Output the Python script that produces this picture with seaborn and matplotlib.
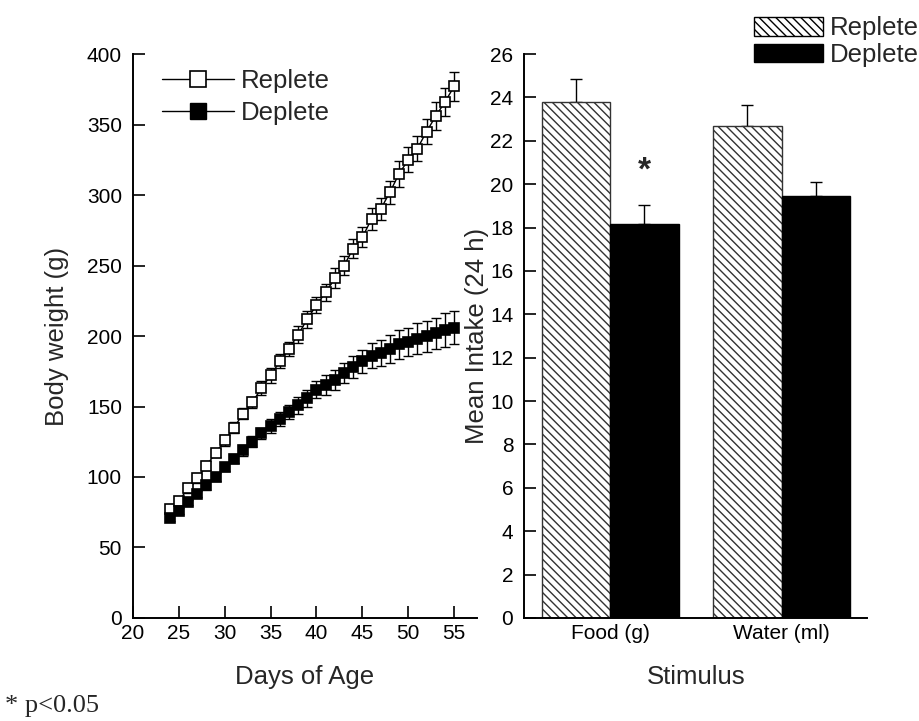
import matplotlib
matplotlib.use("Agg")
import matplotlib.pyplot as plt
import pandas as pd
import seaborn as sns
from matplotlib.lines import Line2D
from matplotlib.patches import Patch

# body weight by day of age (mean, sem)
days = list(range(24, 56))
replete_wt = [77, 83, 92, 99, 108, 117, 126, 135, 145, 153, 163, 172, 182, 191, 201, 212,
              222, 231, 241, 250, 262, 270, 283, 290, 302, 315, 325, 333, 345, 356, 366, 377]
replete_sem = [3, 3, 3, 3, 3, 3, 4, 4, 4, 4, 5, 5, 5, 5, 6, 6,
               6, 6, 7, 7, 7, 7, 8, 8, 8, 9, 9, 9, 9, 10, 10, 10]
deplete_wt = [71, 76, 82, 88, 94, 100, 107, 113, 119, 125, 131, 136, 141, 146, 151, 156,
              162, 165, 169, 174, 178, 182, 186, 188, 191, 194, 196, 198, 200, 202, 204, 206]
deplete_sem = [2, 2, 2, 2, 3, 3, 3, 3, 4, 4, 4, 5, 5, 5, 6, 6,
               6, 7, 7, 7, 8, 8, 9, 9, 10, 10, 10, 11, 11, 11, 12, 12]

# 24 h intake
stimuli = ["Food (g)", "Water (ml)"]
groups = ["Replete", "Deplete"]
intake_replete = [23.8, 22.7]
intake_deplete = [18.15, 19.45]
sem_replete = [1.05, 0.95]
sem_deplete = [0.87, 0.66]

sns.set_style("ticks")
plt.rcParams["font.family"] = ["Liberation Sans", "DejaVu Sans"]
plt.rcParams["hatch.linewidth"] = 1.0

HATCH = "\\\\\\\\"

fig = plt.figure(figsize=(9.2, 7.21), dpi=100)
ax1 = fig.add_axes([0.1446, 0.1429, 0.3739, 0.7821])
ax2 = fig.add_axes([0.570, 0.1429, 0.3727, 0.7821])

# ---- left: body weight
ax1.errorbar(days, replete_wt, yerr=replete_sem, fmt="none", ecolor="black",
             elinewidth=1.0, capsize=3.6, capthick=1.0, zorder=2)
ax1.errorbar(days, deplete_wt, yerr=deplete_sem, fmt="none", ecolor="black",
             elinewidth=1.0, capsize=3.6, capthick=1.0, zorder=2)
sns.lineplot(x=days, y=replete_wt, ax=ax1, color="black", lw=1.0, marker="s",
             markersize=7.5, markerfacecolor="white", markeredgecolor="black",
             markeredgewidth=1.2, zorder=3)
sns.lineplot(x=days, y=deplete_wt, ax=ax1, color="black", lw=1.0, marker="s",
             markersize=7.5, markerfacecolor="black", markeredgecolor="black",
             markeredgewidth=1.2, zorder=4)

ax1.set_xlim(20, 57.5)
ax1.set_ylim(0, 400)
ax1.set_xticks(range(20, 56, 5))
ax1.set_yticks(range(0, 401, 50))
ax1.set_xlabel("Days of Age", fontsize=18.5, labelpad=16)
ax1.set_ylabel("Body weight (g)", fontsize=18.5, labelpad=13)

line_handles = [
    Line2D([], [], color="black", lw=1.0, marker="s", markersize=11,
           markerfacecolor="white", markeredgecolor="black", markeredgewidth=1.2),
    Line2D([], [], color="black", lw=1.0, marker="s", markersize=11,
           markerfacecolor="black", markeredgecolor="black"),
]
ax1.legend(line_handles, groups, loc="upper left", bbox_to_anchor=(0.04, 1.0),
           frameon=False, fontsize=18.5, handlelength=2.8, handletextpad=0.25,
           labelspacing=0.3, borderaxespad=0.2)

# ---- right: intake bars
df = pd.DataFrame({
    "stimulus": stimuli * 2,
    "group": [groups[0]] * 2 + [groups[1]] * 2,
    "intake": intake_replete + intake_deplete,
    "sem": sem_replete + sem_deplete,
})
sns.barplot(data=df, x="stimulus", y="intake", hue="group", hue_order=groups,
            palette={"Replete": "white", "Deplete": "black"}, errorbar=None,
            edgecolor="black", linewidth=1.0, legend=False, ax=ax2, zorder=2)

for cont, grp in zip(ax2.containers, groups):
    sub = df[df["group"] == grp]
    xs = [b.get_x() + b.get_width() / 2 for b in cont]
    ax2.errorbar(xs, sub["intake"], yerr=[[0] * len(xs), sub["sem"]], fmt="none",
                 ecolor="black", elinewidth=1.0, capsize=4.5, capthick=1.0, zorder=1)
    if grp == "Replete":
        for b in cont:
            b.set_hatch(HATCH)
            b.set_edgecolor("#333333")

food_dep = ax2.containers[1][0]
ax2.text(food_dep.get_x() + food_dep.get_width() / 2, 20.6, "*", ha="center",
         va="center", fontsize=24, fontweight="bold")

ax2.set_xlim(-0.5, 1.5)
ax2.set_ylim(0, 26)
ax2.set_yticks(range(0, 27, 2))
ax2.set_xlabel("Stimulus", fontsize=18.5, labelpad=16)
ax2.set_ylabel("Mean Intake (24 h)", fontsize=18.5, labelpad=1)

bar_handles = [Patch(facecolor="white", edgecolor="black", hatch=HATCH),
               Patch(facecolor="black", edgecolor="black")]
ax2.legend(bar_handles, groups, loc="upper left", bbox_to_anchor=(0.64, 1.085),
           frameon=False, fontsize=18.5, handlelength=2.7, handleheight=0.75,
           handletextpad=0.25, labelspacing=0.1, borderaxespad=0.0)

for ax in (ax1, ax2):
    sns.despine(ax=ax)
    for s in ("left", "bottom"):
        ax.spines[s].set_linewidth(1.4)
        ax.spines[s].set_color("black")
    ax.tick_params(direction="in", length=8.5, width=1.2, labelsize=15, pad=8,
                   colors="black")
    ax.tick_params(axis="x", pad=4)
ax2.tick_params(axis="x", length=0)

fig.text(0.005, 0.012, "* p<0.05", fontsize=19, family=["Liberation Serif", "DejaVu Serif"])

fig.savefig("out.png", dpi=100)
